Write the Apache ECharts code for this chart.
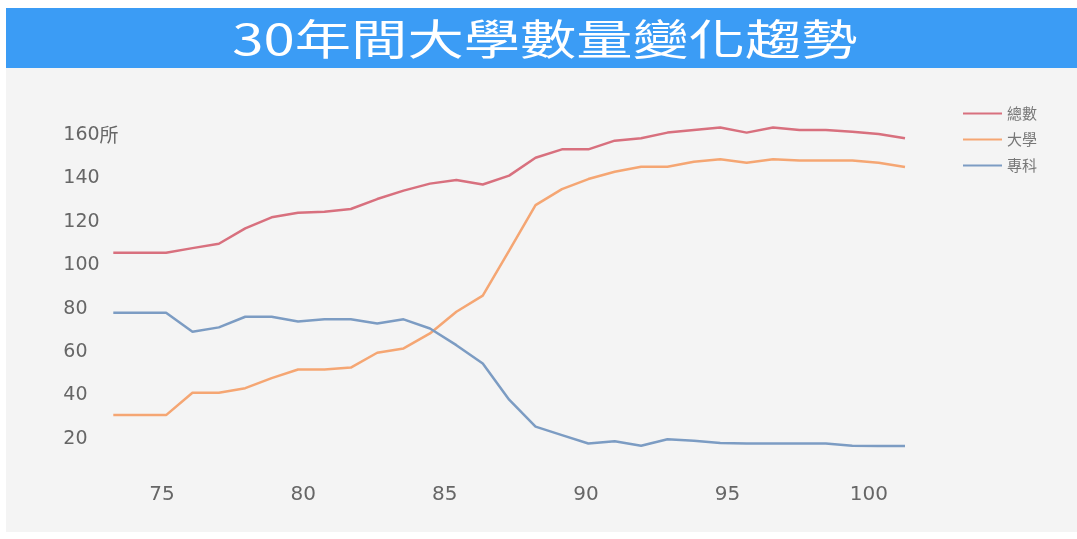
<!DOCTYPE html>
<html>
<head>
<meta charset="utf-8">
<script src="https://cdn.jsdelivr.net/npm/echarts@6/dist/echarts.min.js"></script>
<style>
html,body{margin:0;padding:0;background:#ffffff;}
#chart{width:1077px;height:539px;}
</style>
</head>
<body>
<div id="chart"></div>
<script>
// ---- data ----
var titleText = '30年間大學數量變化趨勢';
var years = ['71','72','73','74','75','76','77','78','79','80','81','82','83','84','85','86','87','88','89','90','91','92','93','94','95','96','97','98','99','100','101'];
var seriesNames = ['總數', '大學', '專科'];
var total = [105.8,105.8,105.8,107.9,109.9,117.0,122.1,124.2,124.7,125.9,130.5,134.4,137.6,139.3,137.2,141.3,149.5,153.4,153.4,157.4,158.5,161.1,162.3,163.5,161.1,163.5,162.3,162.3,161.5,160.5,158.5];
var university = [31.0,31.0,31.0,41.3,41.3,43.4,48.0,52.0,52.0,52.9,59.7,61.7,68.6,78.6,86.0,106.8,127.7,135.1,139.7,143.1,145.4,145.4,147.7,148.8,147.2,148.8,148.2,148.2,148.2,147.2,145.3];
var junior = [78.1,78.1,78.1,69.4,71.4,76.3,76.3,74.1,75.1,75.1,73.2,75.1,70.9,63.2,54.8,38.1,25.7,21.8,17.9,19.0,16.9,19.9,19.2,18.1,17.9,17.9,17.9,17.9,16.9,16.8,16.8];
var xTickLabels = [75, 80, 85, 90, 95, 100];
var yTickLabels = [20, 40, 60, 80, 100, 120, 140, 160];
var yUnit = '所';

var colors = ['#d8707e', '#f5a673', '#7c9cc3'];
var labelFont = 'DejaVu Sans';

var chart = echarts.init(document.getElementById('chart'), null, {renderer: 'canvas'});
var option = {
  backgroundColor: '#ffffff',
  animation: false,
  color: colors,
  graphic: [
    {type: 'rect', z: -10, shape: {x: 6, y: 68, width: 1071, height: 464}, style: {fill: '#f4f4f4'}},
    {type: 'rect', z: -9, shape: {x: 6, y: 8, width: 1071, height: 60}, style: {fill: '#3b9cf5'}},
    {type: 'text', z: 10, x: 545, y: 39, scaleX: 1.34, scaleY: 1,
     style: {text: titleText, x: 0, y: 0, fill: '#ffffff', font: '42px "Noto Sans CJK TC"', textAlign: 'center', textVerticalAlign: 'middle'}}
  ],
  legend: {
    orient: 'vertical',
    left: 958,
    top: 101,
    itemWidth: 39,
    itemHeight: 14,
    itemGap: 11,
    icon: 'path://M0,6 L39,6 L39,8 L0,8 Z',
    data: seriesNames,
    textStyle: {color: '#777777', fontSize: 15, fontFamily: 'Noto Sans CJK TC'}
  },
  grid: {left: 113.3, right: 172, top: 135, bottom: 56.6, containLabel: false},
  xAxis: [
    {type: 'category', data: years, boundaryGap: false, show: false},
    {type: 'value', position: 'bottom', min: 73.28, max: 101.28,
     axisLine: {show: false}, axisTick: {show: false}, splitLine: {show: false},
     axisLabel: {show: true, showMinLabel: false, showMaxLabel: false, margin: 2,
       color: '#666666', fontSize: 20, fontFamily: labelFont,
       formatter: function (v) { return xTickLabels.indexOf(Math.round(v * 100) / 100) >= 0 ? String(v) : ''; }}}
  ],
  yAxis: {
    type: 'value', min: 0, max: 160, interval: 20,
    axisLine: {show: false}, axisTick: {show: false}, splitLine: {show: false},
    axisLabel: {align: 'left', margin: 50, color: '#666666', fontSize: 19, fontFamily: labelFont,
      formatter: function (v) {
        if (yTickLabels.indexOf(v) < 0) return '';
        return v === yTickLabels[yTickLabels.length - 1] ? v + '{u|' + yUnit + '}' : String(v);
      },
      rich: {u: {fontSize: 19, fontFamily: 'Noto Sans CJK TC', color: '#666666'}}
    }
  },
  series: [
    {name: seriesNames[0], type: 'line', data: total, symbol: 'none', clip: false, xAxisIndex: 0, lineStyle: {width: 2.5, color: colors[0]}, itemStyle: {color: colors[0]}},
    {name: seriesNames[1], type: 'line', data: university, symbol: 'none', clip: false, xAxisIndex: 0, lineStyle: {width: 2.5, color: colors[1]}, itemStyle: {color: colors[1]}},
    {name: seriesNames[2], type: 'line', data: junior, symbol: 'none', clip: false, xAxisIndex: 0, lineStyle: {width: 2.5, color: colors[2]}, itemStyle: {color: colors[2]}}
  ]
};
chart.setOption(option);
</script>
</body>
</html>
